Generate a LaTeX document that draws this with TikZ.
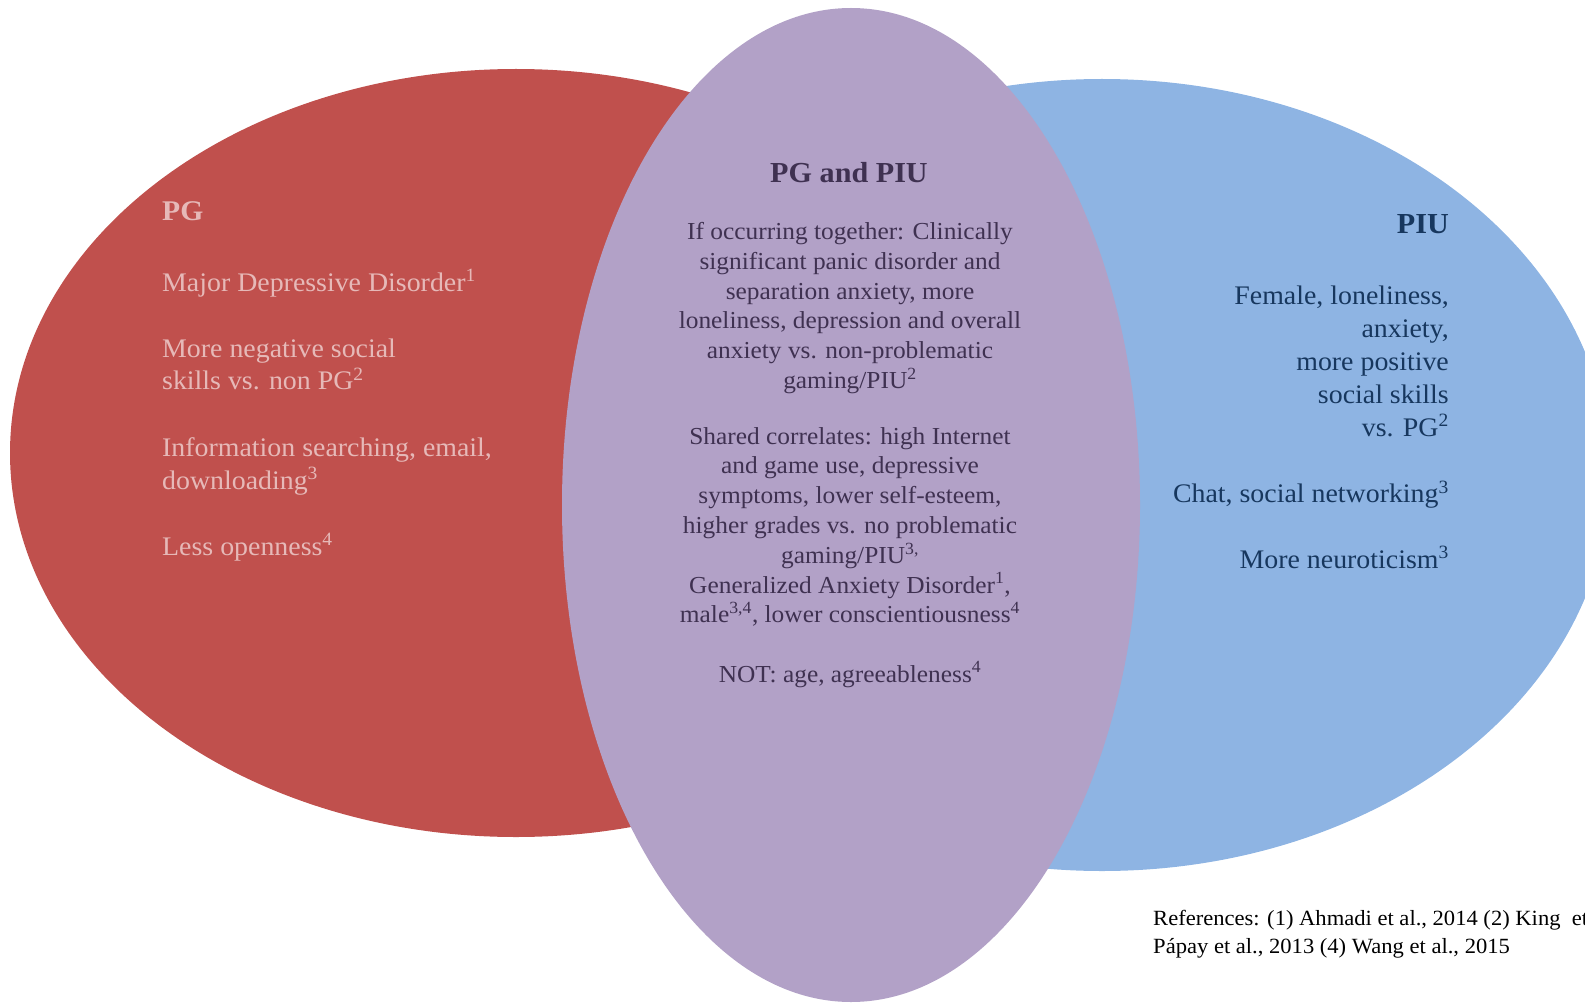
\documentclass[tikz,border=0pt]{standalone}
\usepackage{fontspec}
\setmainfont[FakeStretch=1.04]{Liberation Serif}
\newcommand\supr[1]{\textsuperscript{#1}}
\definecolor{pgfill}{HTML}{C0504D}
\definecolor{piufill}{HTML}{8EB4E3}
\definecolor{bothfill}{HTML}{B2A1C7}
\definecolor{pgtext}{HTML}{E6B9B8}
\definecolor{bothtext}{HTML}{3F3151}
\definecolor{piutext}{HTML}{17375E}
\begin{document}
\begin{tikzpicture}[x=1pt,y=-1pt,
  pgtxt/.style={anchor=base west, inner sep=0pt, text=pgtext, font=\fontsize{26.8}{32}\selectfont},
  pghead/.style={pgtxt, font=\fontsize{28.5}{34}\selectfont\bfseries},
  bothtxt/.style={anchor=base, inner sep=0pt, text=bothtext, font=\fontsize{24.4}{30}\selectfont},
  bothhead/.style={bothtxt, font=\fontsize{29}{34}\selectfont\bfseries},
  piutxt/.style={anchor=base east, inner sep=0pt, text=piutext, font=\fontsize{26.8}{32}\selectfont},
  piuhead/.style={piutxt, font=\fontsize{29}{34}\selectfont\bfseries},
  reftxt/.style={anchor=base west, inner sep=0pt, text=black, font=\fontsize{21.7}{29}\selectfont}]
\useasboundingbox (0,0) rectangle (1585,1003);
\clip (0,0) rectangle (1585,1003);

% the three sets
\fill[pgfill] (516,453) ellipse [x radius=506, y radius=384];
\fill[piufill] (1102,475) ellipse [x radius=508, y radius=396];
\fill[bothfill] (851,505) ellipse [x radius=289, y radius=497];

% PG only
\node[pghead] (pg-title) at (162,221) {PG};
\foreach \y/\t [count=\i] in {
  291/{Major Depressive Disorder\supr{1}},
  357/{More negative social},
  389.5/{skills vs. non PG\supr{2}},
  456/{Information searching, email,},
  489/{downloading\supr{3}},
  555/{Less openness\supr{4}}}
  \node[pgtxt] (pg-\i) at (162,\y) {\t};

% PG and PIU
\node[bothhead] (both-title) at (849,183) {PG and PIU};
\foreach \y/\t [count=\i] in {
  239.5/{If occurring together: Clinically},
  269.3/{significant panic disorder and},
  299.1/{separation anxiety, more},
  328.9/{loneliness, depression and overall},
  358.7/{anxiety vs. non-problematic},
  388.5/{gaming/PIU\supr{2}},
  444/{Shared correlates: high Internet},
  473.8/{and game use, depressive},
  503.6/{symptoms, lower self-esteem,},
  533.4/{higher grades vs. no problematic},
  563.2/{gaming/PIU\supr{3,}},
  593/{Generalized Anxiety Disorder\supr{1},},
  622.8/{male\supr{3,4}, lower conscientiousness\supr{4}},
  682/{NOT: age, agreeableness\supr{4}}}
  \node[bothtxt] (both-\i) at (850,\y) {\t};

% PIU only
\node[piuhead] (piu-title) at (1449,234) {PIU};
\foreach \y/\t [count=\i] in {
  304.5/{Female, loneliness,},
  337/{anxiety,},
  370/{more positive},
  403/{social skills},
  436/{vs. PG\supr{2}},
  502.5/{Chat, social networking\supr{3}},
  568/{More neuroticism\supr{3}}}
  \node[piutxt] (piu-\i) at (1449,\y) {\t};

% sources
\node[reftxt] (ref-1) at (1153,925) {References: (1) Ahmadi et al., 2014 (2) King\ \ et};
\node[reftxt] (ref-2) at (1153,953.5) {Pápay et al., 2013 (4) Wang et al., 2015};
\end{tikzpicture}
\end{document}
